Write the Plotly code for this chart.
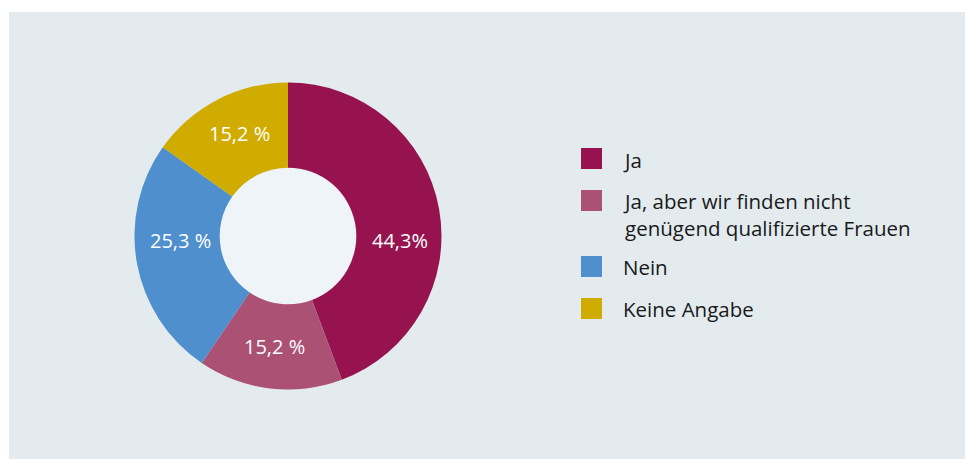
import math
import plotly.graph_objects as go

# ---- data ----
categories = ["Ja", "Ja, aber wir finden nicht<br>genügend qualifizierte Frauen", "Nein", "Keine Angabe"]
values = [44.3, 15.2, 25.3, 15.2]
value_labels = ["44,3%", "15,2 %", "25,3 %", "15,2 %"]
colors = ["#961350", "#ab5174", "#4f8fcd", "#d0ac00"]

W, H = 973, 459
OFF = 8  # page body margin of the browser
FONT = "'Open Sans', sans-serif"

def px(x):
    return (x - OFF) / W

def py(y):
    return 1 - (y - OFF) / H

cx, cy, r = 288, 236, 153.5
hole_ratio = 0.445

fig = go.Figure()
fig.add_trace(go.Pie(
    labels=categories,
    values=values,
    text=value_labels,
    textinfo="none",
    marker=dict(colors=colors, line=dict(width=0)),
    hole=hole_ratio,
    sort=False,
    direction="clockwise",
    rotation=0,
    showlegend=False,
    domain=dict(x=[px(cx - r), px(cx + r)], y=[py(cy + r), py(cy - r)]),
    hoverinfo="label+text",
))

hr = r * hole_ratio
shapes = [
    dict(type="rect", xref="paper", yref="paper", x0=px(9), x1=1.05, y0=-0.05, y1=py(12),
         fillcolor="#e3ebef", line=dict(width=0), layer="below"),
    dict(type="circle", xref="paper", yref="paper", x0=px(cx - hr), x1=px(cx + hr),
         y0=py(cy + hr), y1=py(cy - hr), fillcolor="#eef4f7", line=dict(width=0), layer="below"),
]

annotations = []
# value labels placed in polar positions (angle clockwise from 12 o'clock, radius in px)
label_angles = [90, 187, 270, 335.5]
label_radii = [112, 107, 108, 117]
for txt, ang, rad in zip(value_labels, label_angles, label_radii):
    a = math.radians(ang)
    lx = cx + rad * math.sin(a)
    ly = cy - rad * math.cos(a) + 4
    annotations.append(dict(x=px(lx), y=py(ly), xref="paper", yref="paper", text=txt,
                            showarrow=False, xanchor="center", yanchor="middle",
                            font=dict(size=20, color="white", family=FONT)))

# custom legend
legend_sq_y = [158.5, 200.5, 266.5, 308.5]
legend_txt_y = [160, 214.5, 266.5, 308.5]
for cat, col, sy, ty in zip(categories, colors, legend_sq_y, legend_txt_y):
    shapes.append(dict(type="rect", xref="paper", yref="paper",
                       x0=px(581), x1=px(602), y0=py(sy + 10.5), y1=py(sy - 10.5),
                       fillcolor=col, line=dict(width=0)))
    annotations.append(dict(x=px(621), y=py(ty), xref="paper", yref="paper",
                            text=cat, showarrow=False, xanchor="left", yanchor="middle",
                            align="left", font=dict(size=20.5, color="#1a1a1a", family=FONT)))

fig.update_layout(
    width=W, height=H,
    margin=dict(l=0, r=0, t=0, b=0),
    paper_bgcolor="white",
    plot_bgcolor="white",
    shapes=shapes,
    annotations=annotations,
    showlegend=False,
)

fig.write_html("out.html")
